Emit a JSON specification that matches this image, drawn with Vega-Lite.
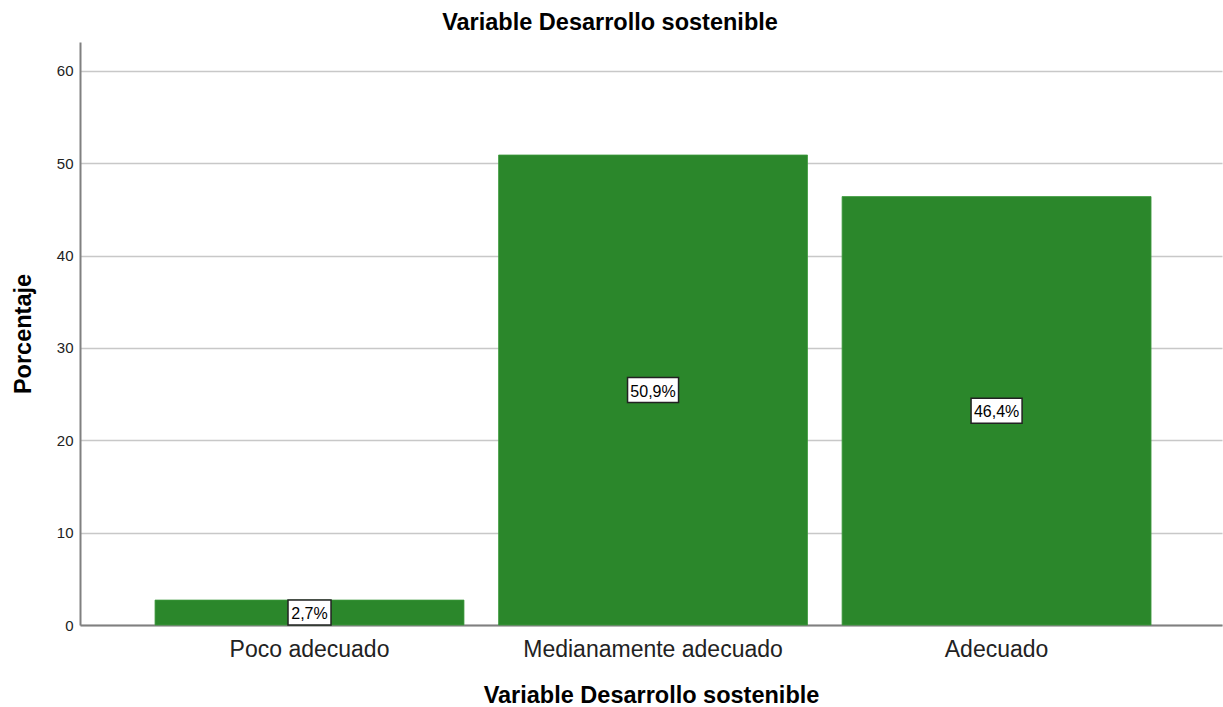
{
  "$schema": "https://vega.github.io/schema/vega-lite/v6.json",
  "width": 1142,
  "height": 583,
  "autosize": "none",
  "padding": {"left": 80, "top": 42, "right": 1, "bottom": 82},
  "background": "white",
  "config": {"view": {"stroke": null}},
  "title": {
    "text": "Variable Desarrollo sostenible",
    "anchor": "middle",
    "frame": "group",
    "dx": -41,
    "offset": 8,
    "font": "Liberation Sans",
    "fontSize": 23.5,
    "fontWeight": "bold",
    "color": "#000000"
  },
  "data": {
    "values": [
      {"categoria": "Poco adecuado", "Porcentaje": 2.7, "etiqueta": "2,7%"},
      {"categoria": "Medianamente adecuado", "Porcentaje": 50.9, "etiqueta": "50,9%"},
      {"categoria": "Adecuado", "Porcentaje": 46.4, "etiqueta": "46,4%"}
    ]
  },
  "encoding": {
    "x": {
      "field": "categoria",
      "type": "nominal",
      "sort": ["Poco adecuado", "Medianamente adecuado", "Adecuado"],
      "scale": {"paddingInner": 0.1007, "paddingOuter": 0.2125, "align": 0.514},
      "axis": {
        "title": "Variable Desarrollo sostenible",
        "labelAngle": 0,
        "labelLimit": 0,
        "labelFont": "Liberation Sans",
        "labelFontSize": 23,
        "labelColor": "#222222",
        "labelPadding": 13,
        "ticks": false,
        "domainColor": "#808080",
        "domainWidth": 2,
        "titleFont": "Liberation Sans",
        "titleFontSize": 23.5,
        "titleFontWeight": "bold",
        "titleColor": "#000000",
        "titlePadding": 22
      }
    }
  },
  "layer": [
    {
      "mark": {"type": "bar", "color": "#2b872b", "stroke": "#3d9a3d", "strokeWidth": 0.8},
      "encoding": {
        "y": {
          "field": "Porcentaje",
          "type": "quantitative",
          "scale": {"domain": [0, 63.14], "nice": false},
          "axis": {
            "title": "Porcentaje",
            "values": [0, 10, 20, 30, 40, 50, 60],
            "labelFont": "Liberation Sans",
            "labelFontSize": 15,
            "labelColor": "#222222",
            "labelPadding": 7,
            "ticks": false,
            "domainColor": "#808080",
            "domainWidth": 2,
            "grid": true,
            "gridColor": "#c8c8c8",
            "gridWidth": 1.6,
            "titleFont": "Liberation Sans",
            "titleFontSize": 23.5,
            "titleFontWeight": "bold",
            "titleColor": "#000000",
            "titlePadding": 21
          }
        }
      }
    },
    {
      "mark": {"type": "point", "filled": true, "fill": "white", "stroke": "#222222", "strokeWidth": 1.5, "opacity": 1, "dy": 1.5},
      "encoding": {
        "y": {"field": "Porcentaje", "type": "quantitative", "stack": "zero", "bandPosition": 0.5},
        "shape": {
          "condition": {"test": "datum.Porcentaje < 10", "value": "M-1,-0.58L1,-0.58L1,0.58L-1,0.58Z"},
          "value": "M-1,-0.49L1,-0.49L1,0.49L-1,0.49Z"
        },
        "size": {
          "condition": {"test": "datum.Porcentaje < 10", "value": 1849},
          "value": 2601
        }
      }
    },
    {
      "mark": {"type": "text", "font": "Liberation Sans", "fontSize": 16, "color": "#000000", "baseline": "middle", "align": "center", "dy": 1.5},
      "encoding": {
        "y": {"field": "Porcentaje", "type": "quantitative", "stack": "zero", "bandPosition": 0.5},
        "text": {"field": "etiqueta"}
      }
    }
  ]
}
